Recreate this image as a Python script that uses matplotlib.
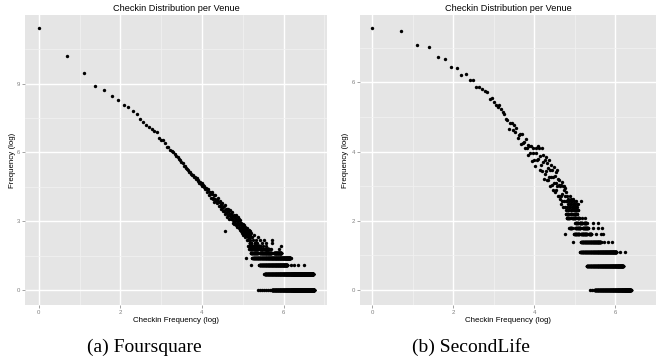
import numpy as np
import matplotlib.pyplot as plt

plt.rcParams['font.family'] = ['Liberation Sans', 'DejaVu Sans']

# Foursquare: number of venues for checkin counts 1, 2, 3, ...
fs_counts = [90000, 26700, 12700, 7180, 6060, 4630, 3900, 3130, 2890, 2420,
             2120, 1750, 1500, 1310, 1210, 1110, 1020, 970, 750, 690,
             690, 600, 520, 515, 445, 437, 410, 380, 345, 335,
             300, 290, 262, 250, 228, 226, 205, 196, 190, 172,
             176, 160, 152, 150, 138, 141, 128, 130, 118, 121,
             108, 112, 101, 106, 94, 97, 88, 93, 82, 86,
             84, 72, 75, 82, 62, 67, 72, 55, 65, 71,
             54, 56, 63, 46, 54, 63, 48, 44, 52, 47,
             56, 39, 46, 39, 48, 34, 41, 43, 36, 44,
             32, 37, 40, 31, 33, 41, 28, 34, 29, 35,
             24, 30, 34, 26, 28, 31, 22, 33, 25, 28,
             22, 28, 22, 24, 30, 19, 25, 21, 26, 19,
             18, 25, 20, 23, 17, 22, 26, 19, 21, 16,
             24, 18, 20, 15, 22, 17, 19, 21, 14, 18,
             16, 13, 19, 15, 12, 17, 14, 18, 11, 16,
             13, 15, 17, 12, 14, 10, 16, 13, 15, 11,
             14, 12, 9, 13, 11, 15, 10, 12, 13, 9,
             11, 14, 10, 12, 8, 11, 13, 9, 10, 12]
# runs of checkin counts (from, to) that share one small venue count
fs_bands = [(1, 302, 854), (2, 252, 837), (3, 222, 441), (4, 187, 478),
            (5, 180, 215), (5, 225, 300), (5, 318, 383),
            (6, 174, 185), (6, 195, 215), (6, 228, 240), (6, 255, 280),
            (7, 170, 178), (7, 190, 200), (7, 215, 225),
            (8, 176, 182), (8, 200, 208)]
# isolated (checkin count, venue count) points
fs_sparse = [(213, 1), (224, 1), (236, 1), (248, 1), (261, 1), (274, 1), (288, 1),
             (181, 3), (478, 3), (518, 3), (578, 3), (665, 3), (161, 4),
             (296, 6), (360, 6), (245, 7), (265, 7), (380, 7),
             (236, 8), (262, 8), (300, 8), (190, 9), (205, 9), (225, 9),
             (250, 9), (305, 9), (185, 10), (215, 10), (196, 11), (96, 13)]

# SecondLife
sl_counts = [1920, 1770, 1180, 1120, 840, 800, 630, 620, 500, 520,
             430, 430, 350, 350, 330, 314, 305, 247, 257, 228,
             213, 196, 208, 189, 174, 162, 140, 136, 105, 126,
             124, 102, 118, 97, 109, 82, 89, 92, 69, 90,
             70, 73, 60, 78, 61, 66, 49, 64, 52, 65,
             42, 53, 61, 43, 36, 61, 52, 43, 64, 44,
             60, 32, 48, 37, 61, 31, 40, 49, 25, 43,
             29, 47, 31, 24, 39, 34, 24, 43, 26, 32,
             20, 37, 26, 21, 32, 26, 18, 35, 22, 27,
             17, 30, 22, 18, 32, 20, 15, 25, 21, 15,
             24, 14, 20, 12, 21, 15, 23, 13, 16, 20,
             11, 18, 13, 20, 11, 15, 19, 10, 13, 17,
             13, 11, 15, 10, 12, 14, 11, 13, 10, 12,
             15, 11, 13, 10, 12, 14, 10, 11, 13, 12,
             10, 14, 11, 12, 10, 13, 11, 10, 12, 11,
             10, 13, 10, 11, 12, 10, 11, 10, 12, 10]
sl_bands = [(1, 240, 590), (2, 198, 487), (3, 169, 412), (4, 172, 280),
            (5, 145, 165), (5, 172, 200), (5, 210, 222),
            (6, 129, 138), (6, 150, 170), (6, 180, 205),
            (7, 150, 160), (7, 166, 178), (7, 185, 198),
            (8, 121, 130), (8, 138, 150), (8, 158, 164),
            (9, 119, 126), (9, 132, 137), (9, 145, 156)]
sl_sparse = [(213, 1), (225, 1), (450, 3), (505, 3), (143, 4), (302, 4),
             (337, 4), (369, 4), (116, 5), (248, 5), (280, 5), (297, 5),
             (232, 6), (263, 6), (291, 6), (232, 7), (259, 7),
             (176, 8), (190, 8), (174, 13)]


def expand(counts, bands, sparse):
    k = list(range(1, len(counts) + 1))
    n = list(counts)
    for c, lo, hi in bands:
        run = list(range(lo, hi + 1))
        k += run
        n += [c] * len(run)
    for kk, c in sparse:
        k.append(kk)
        n.append(c)
    return np.log(k), np.log(n)


def gg_panel(ax, x, y, xlim, ylim, yticks, yminor):
    ax.set_facecolor('#E5E5E5')
    ax.scatter(x, y, s=6, c='black', linewidths=0, zorder=3)
    ax.set_xlim(xlim)
    ax.set_ylim(ylim)
    ax.set_xticks([0, 2, 4, 6])
    ax.set_xticks([1, 3, 5, 7], minor=True)
    ax.set_yticks(yticks)
    ax.set_yticks(yminor, minor=True)
    ax.grid(which='major', color='white', lw=1.0)
    ax.grid(which='minor', color='#F2F2F2', lw=0.5)
    ax.set_axisbelow(True)
    for s in ax.spines.values():
        s.set_visible(False)
    ax.tick_params(which='major', length=2.2, width=0.5, color='#7F7F7F',
                   labelcolor='#7F7F7F', labelsize=4.3, pad=1.5)
    ax.tick_params(which='minor', length=0)
    ax.text(0.5, 1.022, 'Checkin Distribution per Venue', transform=ax.transAxes,
            ha='center', va='center', fontsize=6.6)
    ax.text(0.5, -0.052, 'Checkin Frequency (log)', transform=ax.transAxes,
            ha='center', va='center', fontsize=5.7)


fig = plt.figure(figsize=(6.58, 3.63), dpi=100)
ax1 = fig.add_axes([25 / 658, 1 - 305 / 363, 302 / 658, 290 / 363])
ax2 = fig.add_axes([360 / 658, 1 - 305 / 363, 296 / 658, 290 / 363])

x, y = expand(fs_counts, fs_bands, fs_sparse)
gg_panel(ax1, x, y, (-0.338, 7.064), (-0.64, 11.985), [0, 3, 6, 9], [1.5, 4.5, 7.5, 10.5])
ax1.text(-0.043, 0.5, 'Frequency (log)', transform=ax1.transAxes, rotation=90,
         ha='center', va='center', fontsize=5.7)

x, y = expand(sl_counts, sl_bands, sl_sparse)
gg_panel(ax2, x, y, (-0.308, 6.55), (-0.434, 7.95), [0, 2, 4, 6], [1, 3, 5, 7])
ax2.text(-0.05, 0.5, 'Frequency (log)', transform=ax2.transAxes, rotation=90,
         ha='center', va='center', fontsize=5.7)

fig.text(144 / 658, 1 - 347 / 363, '(a) Foursquare', ha='center', va='center',
         fontsize=14, family='Liberation Serif')
fig.text(471 / 658, 1 - 347 / 363, '(b) SecondLife', ha='center', va='center',
         fontsize=14, family='Liberation Serif')

fig.savefig('out.png', dpi=100)
